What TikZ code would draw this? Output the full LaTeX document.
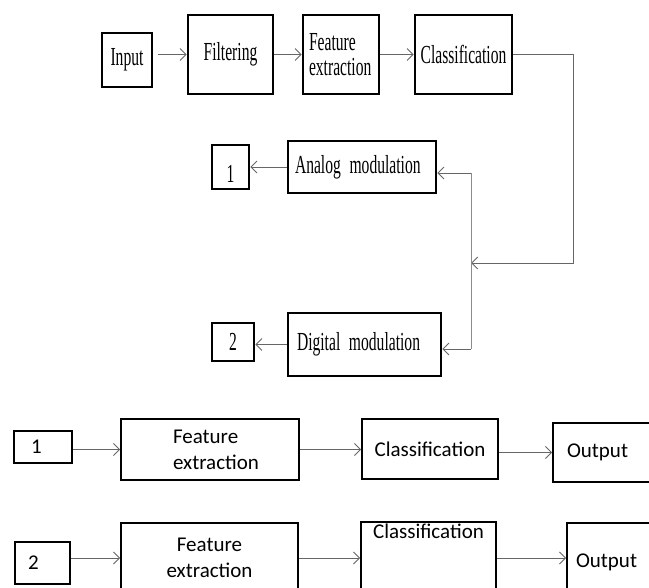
\documentclass[tikz,border=0pt]{standalone}
\usepackage{fontspec}
\usepackage{tikz}
\usetikzlibrary{arrows.meta}
\newfontfamily\narrowserif[FakeStretch=0.6]{Liberation Serif}
\newfontfamily\calibrilike{Carlito}
\newcommand\topfont{\narrowserif\fontsize{26}{25}\selectfont\fontdimen2\font=4.5pt\relax}

\begin{document}
\begin{tikzpicture}[
        x=1pt, y=-1pt,
        block/.style={
            rectangle,
            draw,
            line width=2.6pt,
            align=center,
            inner sep=2pt,
            font=\topfont
        },
        lowblock/.style={
            rectangle,
            draw,
            line width=1.8pt,
            align=center,
            inner sep=1pt,
            font=\calibrilike\fontsize{21}{26}\selectfont
        },
        arrow/.style={-{Straight Barb[length=6pt,width=12pt]}, line width=0.9pt, draw=black!60},
        line/.style={line width=0.9pt, draw=black!45}
    ]
        \path[use as bounding box, fill=white] (0,0) rectangle (649,588);
        \clip (0,0) rectangle (649,588);

        % first stage
        \node[block, minimum width=50pt, minimum height=54pt] (input) at (127,60) {Input};
        \node[block, minimum width=85pt, minimum height=79pt] (filter) at (230.5,54.5) {Filtering};
        \node[block, align=left, inner xsep=6pt, text width=64pt, minimum height=79pt] (feat) at (341,54.5) {Feature\\extraction};
        \node[block, minimum width=97pt, minimum height=79pt] (class) at (463.5,54.5) {Classification};
        \node[block, align=left, inner xsep=7pt, text width=134pt, minimum height=52pt] (analog) at (362,167) {Analog modulation};
        \node[block, align=left, inner xsep=9pt, text width=135pt, minimum height=63pt] (digital) at (364.5,344.5) {Digital modulation};
        \node[block, minimum width=37pt, minimum height=44pt, text height=32pt] (one) at (230.5,167) {1};
        \node[block, minimum width=42pt, minimum height=38pt] (two) at (233,342) {2};

        \coordinate (loop) at (573,263);
        \coordinate (split) at (471,263);
        \coordinate (atop) at (471,173);
        \coordinate (dbot) at (471,349);

        \draw[arrow, shorten <=5pt] (input.east |- filter) -- (filter.west);
        \draw[arrow] (filter) -- (feat);
        \draw[arrow] (feat) -- (class);
        \draw[arrow] (class.east) -| (loop) -- (split);
        \draw[line] (atop) -- (dbot);
        \draw[arrow] (atop) -- (atop -| analog.east);
        \draw[arrow] (dbot) -- (dbot -| digital.east);
        \draw[arrow] (analog) -- (one);
        \draw[arrow] (digital.west) -- (digital.west -| two.east);

        % second stage
        \node[lowblock, align=left, inner xsep=17pt, text width=24pt, minimum height=32pt] (lone) at (43,447) {1};
        \node[lowblock, align=left, inner xsep=52pt, text width=74pt, minimum height=61pt] (lfeat) at (210,449.5) {Feature\\extraction};
        \node[lowblock, minimum width=136pt, minimum height=60pt] (lclass) at (430,449) {Classification};
        \node[lowblock, align=left, inner xsep=14pt, text width=72pt, minimum height=59pt] (lout) at (603,452.5) {Output};
        \node[lowblock, align=left, inner xsep=13pt, text width=29pt, minimum height=42pt] (ltwo) at (42.5,563) {2};
        \node[lowblock, minimum width=177pt, minimum height=70pt] (dfeat) at (209.5,558) {Feature\\extraction};
        \node[lowblock, minimum width=135pt, minimum height=71pt, inner ysep=0pt, text height=15pt, text depth=54pt] (dclass) at (428.5,557.5) {Classification};
        \node[lowblock, align=left, inner xsep=9pt, text width=82pt, minimum height=70pt, text height=18pt, text depth=0pt] (dout) at (617,558) {Output};

        \draw[arrow] (lfeat.west -| lone.east) -- (lfeat.west);
        \draw[arrow] (lfeat.east) -- (lfeat.east -| lclass.west);
        \draw[arrow] (lout.west -| lclass.east) -- (lout.west);
        \draw[arrow] (dfeat.west -| ltwo.east) -- (dfeat.west);
        \draw[arrow] (dfeat.east) -- (dfeat.east -| dclass.west);
        \draw[arrow] (dout.west -| dclass.east) -- (dout.west);
    \end{tikzpicture}
\end{document}
